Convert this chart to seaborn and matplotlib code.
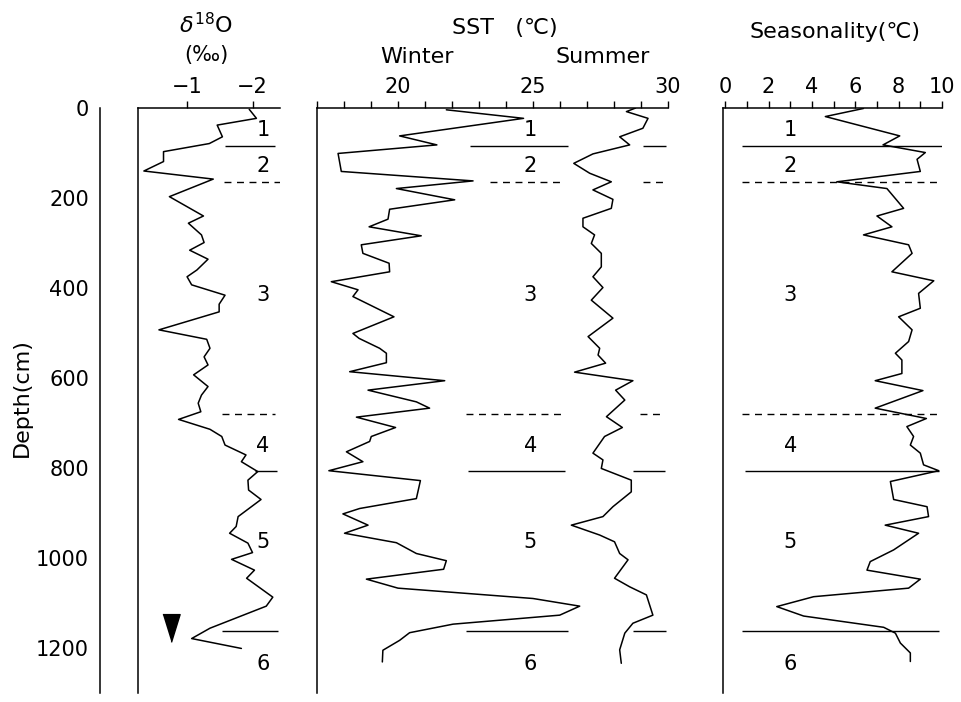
import matplotlib
matplotlib.use("Agg")
import matplotlib.pyplot as plt
import seaborn as sns
import pandas as pd

# core profile, depth in cm
d18o_depth = [3, 23, 38, 64, 79, 97, 119, 140, 158, 197, 240, 256, 282, 299, 316, 336, 360, 375,
              393, 416, 436, 453, 493, 514, 534, 553, 571, 593, 619, 638, 656, 675, 692, 714, 730,
              749, 771, 786, 808, 827, 849, 870, 908, 930, 945, 967, 988, 1003, 1027, 1045, 1087,
              1107, 1156, 1179, 1201]
d18o_value = [-1.95, -2.06, -1.46, -1.54, -1.34, -0.64, -0.64, -0.34, -1.40, -0.73, -1.25, -1.02,
              -1.22, -1.26, -1.04, -1.32, -1.15, -1.00, -1.07, -1.58, -1.49, -1.49, -0.57, -1.30,
              -1.35, -1.26, -1.32, -1.10, -1.32, -1.22, -1.17, -1.21, -0.87, -1.35, -1.53, -1.58,
              -1.90, -1.83, -2.08, -1.93, -1.94, -2.13, -1.78, -1.75, -1.65, -1.93, -2.00, -1.68,
              -2.03, -1.91, -2.31, -2.21, -1.35, -1.07, -1.83]

winter_depth = [4, 23, 62, 82, 101, 141, 162, 179, 204, 225, 247, 264, 284, 304, 323, 345, 364,
                386, 404, 419, 464, 501, 512, 534, 545, 566, 586, 606, 627, 653, 667, 687, 710,
                730, 741, 764, 786, 806, 828, 868, 890, 902, 927, 945, 966, 990, 1006, 1025, 1047,
                1067, 1090, 1107, 1127, 1147, 1166, 1183, 1205, 1231]
winter_sst = [21.79, 24.65, 20.06, 21.44, 17.78, 17.90, 22.78, 19.94, 22.10, 19.69, 19.63, 18.93,
              20.86, 18.64, 18.70, 19.67, 19.69, 17.53, 18.52, 18.33, 19.85, 18.33, 18.56, 19.32,
              19.57, 19.57, 18.21, 21.73, 18.89, 20.68, 21.17, 18.46, 19.91, 19.01, 18.95, 18.09,
              18.70, 17.44, 20.83, 20.68, 18.58, 17.96, 18.89, 18.02, 19.94, 20.68, 21.79, 21.69,
              18.83, 20.00, 25.00, 26.73, 25.99, 22.04, 20.43, 20.06, 19.44, 19.42]

summer_depth = [0, 8, 23, 45, 64, 82, 102, 123, 145, 164, 182, 203, 223, 245, 264, 282, 301, 323,
                353, 375, 399, 427, 467, 508, 534, 549, 567, 587, 606, 627, 649, 686, 710, 730,
                767, 782, 801, 827, 853, 886, 908, 927, 949, 964, 990, 1004, 1045, 1064, 1082,
                1127, 1145, 1167, 1204, 1234]
summer_sst = [28.80, 28.46, 29.26, 29.07, 28.21, 28.58, 27.22, 26.51, 27.10, 27.90, 27.22, 27.96,
              27.90, 26.85, 26.85, 27.28, 27.16, 27.53, 27.53, 27.22, 27.59, 27.16, 27.96, 27.04,
              27.47, 27.41, 27.69, 26.54, 28.70, 28.06, 28.40, 27.72, 28.31, 27.65, 27.22, 27.59,
              27.53, 28.64, 28.64, 27.96, 27.59, 26.42, 27.47, 28.02, 28.21, 28.52, 28.02, 28.58,
              29.20, 29.44, 28.70, 28.40, 28.21, 28.27]

season_depth = [1, 19, 62, 82, 99, 114, 141, 164, 179, 223, 240, 264, 282, 304, 323, 364, 384,
                412, 445, 464, 493, 519, 545, 560, 590, 606, 628, 667, 690, 708, 730, 749, 767,
                793, 806, 830, 870, 886, 908, 927, 945, 982, 1008, 1027, 1047, 1067, 1086, 1108,
                1129, 1154, 1167, 1189, 1211, 1230]
season_value = [6.38, 4.62, 8.05, 7.28, 9.23, 8.85, 9.00, 5.15, 7.46, 8.23, 7.00, 7.69, 6.38, 8.46,
                8.62, 7.69, 9.62, 8.92, 9.00, 8.00, 8.62, 8.46, 7.85, 8.15, 8.15, 6.92, 9.12, 6.92,
                9.28, 8.38, 8.69, 8.54, 9.00, 9.15, 9.85, 7.62, 7.77, 9.31, 9.38, 7.38, 8.92, 7.77,
                6.69, 6.54, 9.00, 8.46, 4.08, 2.38, 3.62, 7.31, 7.85, 8.08, 8.54, 8.54]

# zone boundaries: depth, solid/dashed, extent in each panel's units
zone_depth = [85, 165, 680, 806, 1163]
zone_dashed = [False, True, True, False, False]
d18o_zone_x = [(-1.58, -2.35), (-1.56, -2.42), (-1.53, -2.35), (-2.04, -2.37), (-1.53, -2.39)]
sst_zone_x = [(22.65, 26.3), (23.4, 26.0), (22.5, 26.2), (22.6, 26.2), (22.5, 26.3)]
sst_zone_x2 = [(29.07, 29.94), (29.07, 30.0), (28.95, 29.9), (28.7, 29.9), (28.7, 29.94)]
season_zone_x = [(0.77, 10.0), (0.77, 9.9), (0.77, 9.77), (0.92, 9.85), (0.77, 9.85)]

zone_names = ["1", "2", "3", "4", "5", "6"]
zone_label_depth = [48, 130, 415, 750, 965, 1235]
zone_label_x = {"d18o": -2.16, "sst": 24.9, "season": 3.0}

marker_depth = 1155
marker_value = -0.75

sns.set_style("white")
plt.rcParams['font.family'] = ['DejaVu Sans']
plt.rcParams['text.color'] = 'black'

W, H = 961, 702
fig = plt.figure(figsize=(W / 100, H / 100), dpi=100)
TOP, BOTTOM = 108, 693
TICK_FS = 15
TEXT_FS = 16


def px_axes(left, right):
    return fig.add_axes([left / W, 1 - BOTTOM / H, (right - left) / W, (BOTTOM - TOP) / H])


def style_panel(ax):
    ax.set_ylim(1300, 0)
    for s in ["right", "bottom"]:
        ax.spines[s].set_visible(False)
    for s in ["left", "top"]:
        ax.spines[s].set_linewidth(1.1)
        ax.spines[s].set_color("black")
    ax.xaxis.tick_top()
    ax.tick_params(axis="x", which="both", direction="out", length=5, width=1.0, pad=3,
                   labelsize=TICK_FS, colors="black")
    ax.set_yticks([])
    ax.set_xlabel("")
    ax.set_ylabel("")


def draw_zones(ax, extents, xlabel):
    for d, dashed, (a, b) in zip(zone_depth, zone_dashed, extents):
        ax.hlines(d, a, b, colors="black", linewidth=1.0,
                  linestyles=(0, (5, 4)) if dashed else "solid")
    for name, d in zip(zone_names, zone_label_depth):
        ax.text(xlabel, d, name, ha="center", va="center", fontsize=TICK_FS, color="black")


# depth axis
ax0 = px_axes(100, 101)
ax0.set_ylim(1300, 0)
for s in ["right", "top", "bottom"]:
    ax0.spines[s].set_visible(False)
ax0.spines["left"].set_linewidth(1.1)
ax0.spines["left"].set_color("black")
ax0.set_xticks([])
ax0.set_yticks(range(0, 1201, 200))
ax0.set_yticks(range(100, 1301, 200), minor=True)
ax0.tick_params(axis="y", which="both", direction="out", length=5, width=1.0, pad=3,
                labelsize=TICK_FS, colors="black")
fig.text(22 / W, 1 - 398 / H, "Depth(cm)", rotation=90, ha="center", va="center",
         fontsize=TEXT_FS)

# delta 18O panel
ax1 = px_axes(138, 280)
df1 = pd.DataFrame({"depth": d18o_depth, "value": d18o_value})
sns.lineplot(data=df1, x="value", y="depth", orient="y", sort=False, estimator=None,
             color="black", linewidth=1.1, ax=ax1)
style_panel(ax1)
ax1.set_xlim(-0.25, -2.42)
ax1.set_xticks([-1, -2])
ax1.set_yticks(range(100, 1301, 100))
ax1.set_yticklabels([])
ax1.tick_params(axis="y", direction="out", length=4, width=0.8, colors="black")
draw_zones(ax1, d18o_zone_x, zone_label_x["d18o"])
ax1.plot([marker_value], [marker_depth], linestyle="none", color="black",
         marker=[(-0.62, 1), (0.62, 1), (0, -1)], markersize=20)
fig.text(206 / W, 1 - 25 / H, r"$\delta^{18}$O", ha="center", va="center", fontsize=TEXT_FS)
fig.text(206 / W, 1 - 55 / H, "(‰)", ha="center", va="center", fontsize=15)

# SST panel
ax2 = px_axes(317, 668)
df_w = pd.DataFrame({"depth": winter_depth, "sst": winter_sst})
df_s = pd.DataFrame({"depth": summer_depth, "sst": summer_sst})
sns.lineplot(data=df_w, x="sst", y="depth", orient="y", sort=False, estimator=None,
             color="black", linewidth=1.1, ax=ax2)
sns.lineplot(data=df_s, x="sst", y="depth", orient="y", sort=False, estimator=None,
             color="black", linewidth=1.1, ax=ax2)
style_panel(ax2)
ax2.set_xlim(17, 30)
ax2.set_xticks([20, 25, 30])
ax2.set_xticks(range(17, 31), minor=True)
draw_zones(ax2, sst_zone_x, zone_label_x["sst"])
for d, dashed, (a, b) in zip(zone_depth, zone_dashed, sst_zone_x2):
    ax2.hlines(d, a, b, colors="black", linewidth=1.0,
               linestyles=(0, (5, 4)) if dashed else "solid")
fig.text(505 / W, 1 - 28 / H, "SST   (℃)", ha="center", va="center", fontsize=TEXT_FS)
fig.text(417 / W, 1 - 57 / H, "Winter", ha="center", va="center", fontsize=TEXT_FS)
fig.text(603 / W, 1 - 57 / H, "Summer", ha="center", va="center", fontsize=TEXT_FS)

# seasonality panel
ax3 = px_axes(723, 942)
df3 = pd.DataFrame({"depth": season_depth, "value": season_value})
sns.lineplot(data=df3, x="value", y="depth", orient="y", sort=False, estimator=None,
             color="black", linewidth=1.1, ax=ax3)
style_panel(ax3)
ax3.set_xlim(-0.1, 10)
ax3.set_xticks(range(0, 11, 2))
ax3.set_xticks(range(1, 10, 2), minor=True)
draw_zones(ax3, season_zone_x, zone_label_x["season"])
fig.text(835 / W, 1 - 32 / H, "Seasonality(℃)", ha="center", va="center", fontsize=TEXT_FS)

fig.savefig("out.png", dpi=100)
